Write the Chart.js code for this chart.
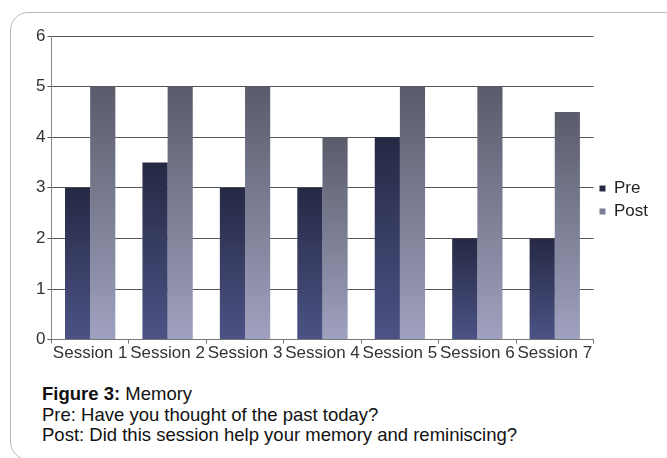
<!DOCTYPE html>
<html>
<head>
<meta charset="utf-8">
<script src="https://cdn.jsdelivr.net/npm/chart.js@4.4.1/dist/chart.umd.min.js"></script>
<style>
  html, body { margin: 0; padding: 0; background: #fff; }
  body { width: 667px; height: 458px; overflow: hidden; position: relative; font-family: "Liberation Sans", Arial, sans-serif; }
  .frame { position: absolute; left: 10px; top: 12px; width: 700px; height: 448px; border: 1px solid #b8b8b8; border-radius: 18px; box-sizing: border-box; }
  .wrap { position: absolute; left: 0; top: 0; width: 667px; height: 364px; }
  .caption { position: absolute; left: 42px; top: 384px; font-size: 18.5px; line-height: 20.5px; color: #111; }
  .caption b { font-weight: bold; }
</style>
</head>
<body>
<div class="frame"></div>
<div class="wrap"><canvas id="memChart"></canvas></div>
<div class="caption">
  <div><b>Figure 3:</b> Memory</div>
  <div>Pre: Have you thought of the past today?</div>
  <div>Post: Did this session help your memory and reminiscing?</div>
</div>
<script>
// sessions and answers
const sessions = ["Session 1", "Session 2", "Session 3", "Session 4", "Session 5", "Session 6", "Session 7"];
const preScores = [3, 3.5, 3, 3, 4, 2, 2];
const postScores = [5, 5, 5, 4, 5, 5, 4.5];

// vertical gradient per bar, dark at the top
function barFill(topColor, bottomColor, solid) {
  return (c) => {
    if (c.type !== "data") return solid;
    const chart = c.chart;
    if (!chart.chartArea) return solid;
    const y = chart.scales.y;
    const top = y.getPixelForValue(c.raw);
    const bot = y.getPixelForValue(0);
    const g = chart.ctx.createLinearGradient(0, top, 0, bot);
    g.addColorStop(0, topColor);
    g.addColorStop(1, bottomColor);
    return g;
  };
}

new Chart(document.getElementById("memChart"), {
  type: "bar",
  data: {
    labels: sessions,
    datasets: [
      { label: "Pre", data: preScores, backgroundColor: barFill("#252944", "#4c5385", "#3d4275"),
        borderWidth: 0, categoryPercentage: 0.65, barPercentage: 1.0 },
      { label: "Post", data: postScores, backgroundColor: barFill("#5a5c6b", "#9fa1bf", "#8a8ca6"),
        borderWidth: 0, categoryPercentage: 0.65, barPercentage: 1.0 }
    ]
  },
  options: {
    responsive: true,
    maintainAspectRatio: false,
    animation: false,
    layout: { padding: { left: 34, top: 36, right: 9, bottom: 0 } },
    plugins: {
      tooltip: { enabled: false },
      legend: {
        position: "right",
        labels: { boxWidth: 6, boxHeight: 6, padding: 6, color: "#222",
          font: { family: "Liberation Sans, Arial", size: 17 } }
      }
    },
    scales: {
      x: {
        grid: { display: true, drawOnChartArea: false, color: "#777", tickLength: 4, offset: true },
        border: { color: "#777" },
        ticks: { color: "#333", padding: 0, maxRotation: 0, autoSkip: false,
          font: { family: "Liberation Sans, Arial", size: 17 } }
      },
      y: {
        min: 0, max: 6,
        grid: { color: "#555", tickLength: 4 },
        border: { color: "#888" },
        ticks: { stepSize: 1, color: "#333", padding: 2,
          font: { family: "Liberation Sans, Arial", size: 17 } }
      }
    }
  }
});
</script>
</body>
</html>
